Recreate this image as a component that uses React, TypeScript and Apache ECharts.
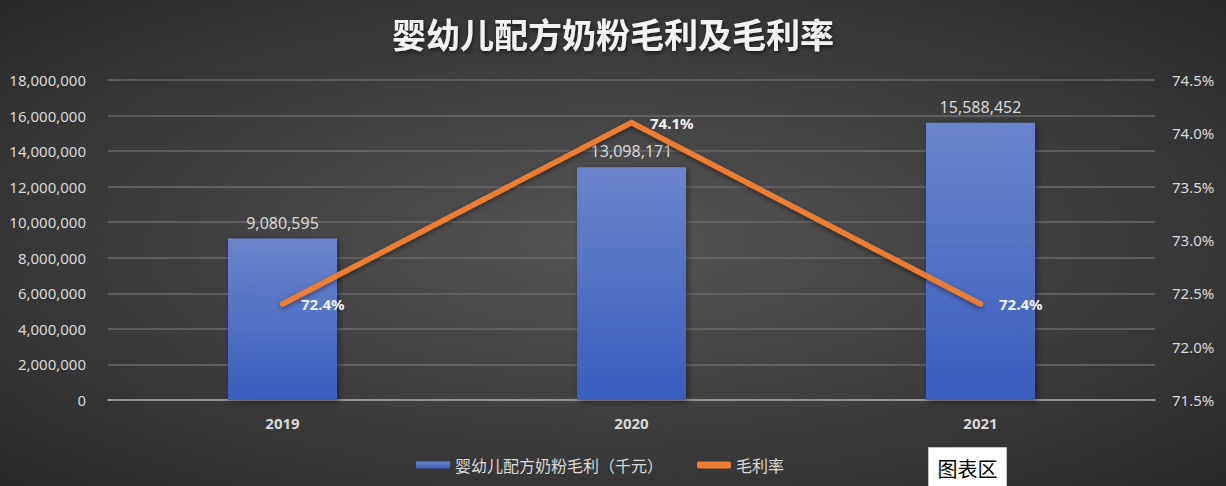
import React, { useEffect, useRef } from 'react';
import * as echarts from 'echarts';

const years = ['2019', '2020', '2021'];
const grossProfit = [9080595, 13098171, 15588452];
const grossMargin = [72.4, 74.1, 72.4];

const barName = '婴幼儿配方奶粉毛利（千元）';
const lineName = '毛利率';

const fontFamily = '"Noto Sans", "Noto Sans CJK SC", sans-serif';

const App: React.FC = () => {
  const chartRef = useRef<HTMLDivElement>(null);

  useEffect(() => {
    document.body.style.margin = '0';
    if (!chartRef.current) return;
    const chart = echarts.init(chartRef.current, undefined, { renderer: 'svg' });

    const option = {
      animation: false,
      backgroundColor: {
        type: 'radial',
        x: 0.5,
        y: 0.5,
        r: 0.75,
        colorStops: [
          { offset: 0, color: '#555555' },
          { offset: 1, color: '#262626' },
        ],
      },
      title: {
        text: '婴幼儿配方奶粉毛利及毛利率',
        left: 'center',
        top: 11,
        textStyle: {
          color: '#f2f2f2',
          fontSize: 34,
          fontWeight: 'bold',
          fontFamily: '"Noto Sans CJK SC", sans-serif',
          textShadowColor: 'rgba(0,0,0,0.6)',
          textShadowBlur: 4,
          textShadowOffsetX: 1,
          textShadowOffsetY: 2,
        },
      },
      legend: {
        left: 411,
        top: 452,
        itemWidth: 34,
        itemHeight: 7,
        itemGap: 34,
        textStyle: { color: '#d9d9d9', fontSize: 16, fontFamily: '"Noto Sans CJK SC", sans-serif' },
        data: [
          { name: barName, icon: 'rect' },
          { name: lineName, icon: 'roundRect' },
        ],
      },
      grid: { left: 108, right: 71, top: 80, bottom: 86 },
      xAxis: {
        type: 'category',
        data: years,
        axisLine: { lineStyle: { color: '#a6a6a6', width: 1.5 } },
        axisTick: { show: false },
        axisLabel: {
          color: '#d9d9d9',
          fontSize: 15,
          fontWeight: 'bold',
          fontFamily,
          margin: 15,
        },
      },
      yAxis: [
        {
          type: 'value',
          min: 0,
          max: 18000000,
          interval: 2000000,
          axisLine: { show: false },
          axisTick: { show: false },
          splitLine: { lineStyle: { color: '#6a6a6a', width: 1.5 } },
          axisLabel: {
            color: '#d9d9d9',
            fontSize: 15,
            fontFamily,
            margin: 22,
            formatter: (v: number) => v.toLocaleString('en-US'),
          },
        },
        {
          type: 'value',
          min: 71.5,
          max: 74.5,
          interval: 0.5,
          axisLine: { show: false },
          axisTick: { show: false },
          splitLine: { show: false },
          axisLabel: {
            color: '#d9d9d9',
            fontSize: 15,
            fontFamily,
            margin: 17,
            formatter: (v: number) => v.toFixed(1) + '%',
          },
        },
      ],
      series: [
        {
          name: barName,
          type: 'bar',
          data: grossProfit,
          barWidth: 109,
          itemStyle: {
            color: {
              type: 'linear',
              x: 0,
              y: 0,
              x2: 0,
              y2: 1,
              colorStops: [
                { offset: 0, color: '#6a85cc' },
                { offset: 1, color: '#3a5dbd' },
              ],
            },
            shadowColor: 'rgba(0,0,0,0.4)',
            shadowBlur: 6,
            shadowOffsetX: 2,
            shadowOffsetY: 2,
          },
          label: {
            show: true,
            position: 'top',
            distance: 8,
            color: '#d9d9d9',
            fontSize: 16,
            fontFamily,
            formatter: (p: any) => Number(p.value).toLocaleString('en-US'),
          },
        },
        {
          name: lineName,
          type: 'line',
          yAxisIndex: 1,
          data: grossMargin,
          symbol: 'circle',
          symbolSize: 1,
          showSymbol: true,
          lineStyle: {
            color: '#ed7d31',
            width: 5.5,
            cap: 'round',
            join: 'miter',
            shadowColor: 'rgba(0,0,0,0.45)',
            shadowBlur: 5,
            shadowOffsetY: 2,
          },
          itemStyle: { color: '#ed7d31' },
          label: {
            show: true,
            position: 'right',
            distance: 18,
            color: '#f2f2f2',
            fontSize: 15,
            fontWeight: 'bold',
            fontFamily,
            formatter: (p: any) => Number(p.value).toFixed(1) + '%',
          },
        },
      ],
      graphic: [
        {
          type: 'group',
          left: 928,
          top: 447,
          children: [
            {
              type: 'rect',
              shape: { x: 0, y: 0, width: 78, height: 42 },
              style: { fill: '#ffffff', stroke: '#bfbfbf', lineWidth: 1 },
            },
            {
              type: 'text',
              x: 39,
              y: 21,
              style: {
                text: '图表区',
                fill: '#000000',
                fontSize: 20,
                fontFamily: '"Noto Sans CJK SC", sans-serif',
                align: 'center',
                verticalAlign: 'middle',
              },
            },
          ],
        },
      ],
    };

    chart.setOption(option);
    return () => {
      chart.dispose();
    };
  }, []);

  return <div ref={chartRef} style={{ width: '1226px', height: '486px' }} />;
};

export default App;
